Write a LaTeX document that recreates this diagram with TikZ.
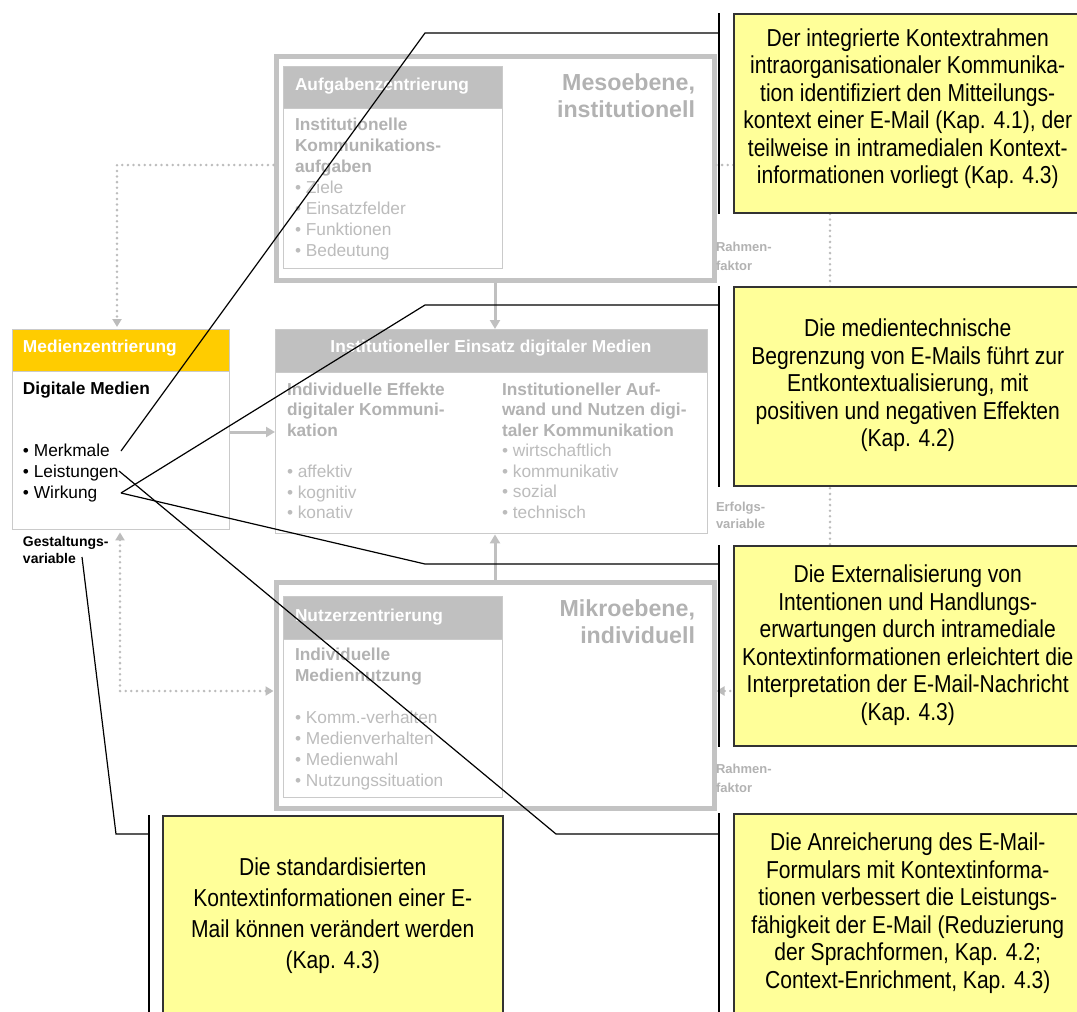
\documentclass[tikz,border=0pt]{standalone}
\usepackage{fontspec}
\setmainfont{Liberation Sans}
\newfontfamily\narrowfont[FakeStretch=0.86]{Liberation Sans}
\usetikzlibrary{arrows.meta}

\definecolor{framegray}{RGB}{195,195,195}
\definecolor{headgray}{RGB}{192,192,192}
\definecolor{rulegray}{RGB}{202,202,202}
\definecolor{boldgray}{RGB}{178,178,178}
\definecolor{itemgray}{RGB}{188,188,188}
\definecolor{dotgray}{RGB}{188,188,188}
\definecolor{notefill}{RGB}{255,255,153}
\definecolor{medienyellow}{RGB}{255,204,0}

% stacked lines with a fixed baseline distance; the node's base is the first line
\newcommand\linesblock[2]{\begin{tabular}[t]{@{}#1@{}}#2\end{tabular}}
\newcommand\bh[1]{{\bfseries\color{boldgray}#1}}
\newcommand\gi[1]{{\color{itemgray}#1}}

\tikzset{
  frame/.style={rectangle, draw=framegray, line width=5pt, fill=white, inner sep=0pt, anchor=north west},
  panel/.style={rectangle, draw=rulegray, line width=1.4pt, fill=white, inner sep=0pt, anchor=north west},
  panelhead/.style={rectangle, draw=rulegray, line width=1.4pt, fill=headgray, inner sep=0pt, anchor=north west},
  txt/.style={inner sep=0pt, outer sep=0pt},
  headtxt/.style={txt, text=white, font=\fontsize{17.3}{20.9}\selectfont\bfseries},
  bodytxt/.style={txt, anchor=base west, font=\fontsize{17.3}{#1}\selectfont},
  bodytxt/.default=20.9,
  leveltxt/.style={txt, text=boldgray, anchor=base east, font=\fontsize{23.2}{27}\selectfont\bfseries},
  sidetxt/.style={txt, text=boldgray, anchor=base west, font=\fontsize{13}{#1}\selectfont\bfseries},
  sidetxt/.default=19,
  note/.style={rectangle, draw=black!80, line width=1.5pt, fill=notefill, inner sep=0pt, anchor=north west},
  notetxt/.style={txt, font=\narrowfont\fontsize{24.5}{#1}\selectfont},
  notetxt/.default=27.5,
  bracket/.style={black, line width=1.5pt},
  leader/.style={black, line width=1.2pt},
  flow/.style={headgray, line width=3pt, -{Triangle[width=10pt,length=9pt]}},
  dotline/.style={dotgray, line width=2.8pt, line cap=round, dash pattern=on 0pt off 5.6pt},
  dottip/.style={-{Triangle[width=9pt,length=8pt]}},
  dottips/.style={{Triangle[width=9pt,length=8pt]}-{Triangle[width=9pt,length=8pt]}},
}

\begin{document}
\begin{tikzpicture}[x=1pt,y=-1pt]
\useasboundingbox (0,0) rectangle (1077,1012);

% ---------- level frames ----------
\node[frame, minimum width=438, minimum height=224] (meso) at (273.5,53.5) {};
\node[frame, minimum width=438, minimum height=226] (micro) at (273.5,579.5) {};

% ---------- task centred panel ----------
\node[panel, minimum width=219, minimum height=202] (aufg) at (283,66) {};
\node[panelhead, minimum width=219, minimum height=42] (aufgHd) at (283,66) {};
\node[headtxt, anchor=base west] (aufgTitle) at (295,90) {Aufgabenzentrierung};
\node[bodytxt] (aufgBody) at (295,130.7) {\linesblock{l}{%
  \bh{Institutionelle}\\\bh{Kommunikations-}\\\bh{aufgaben}\\
  \gi{• Ziele}\\\gi{• Einsatzfelder}\\\gi{• Funktionen}\\\gi{• Bedeutung}}};
\node[leveltxt] (mesoLabel) at (695,90) {\linesblock{r}{Mesoebene,\\institutionell}};

% ---------- institutional use panel ----------
\node[panel, minimum width=432, minimum height=204] (einsatz) at (275,329) {};
\node[panelhead, minimum width=432, minimum height=43] (einsatzHd) at (275,329) {};
\node[headtxt, anchor=base] (einsatzTitle) at (491,352) {Institutioneller Einsatz digitaler Medien};
\node[bodytxt=20.6] (effekte) at (287,395) {\linesblock{l}{%
  \bh{Individuelle Effekte}\\\bh{digitaler Kommuni-}\\\bh{kation}\\ \\
  \gi{• affektiv}\\\gi{• kognitiv}\\\gi{• konativ}}};
\node[bodytxt=20.5] (nutzen) at (502,395) {\linesblock{l}{%
  \bh{Institutioneller Auf-}\\\bh{wand und Nutzen digi-}\\\bh{taler Kommunikation}\\
  \gi{• wirtschaftlich}\\\gi{• kommunikativ}\\\gi{• sozial}\\\gi{• technisch}}};

% ---------- user centred panel ----------
\node[panel, minimum width=219, minimum height=201] (nutzer) at (283,596) {};
\node[panelhead, minimum width=219, minimum height=43] (nutzerHd) at (283,596) {};
\node[headtxt, anchor=base west] (nutzerTitle) at (295,621) {Nutzerzentrierung};
\node[bodytxt=21] (nutzerBody) at (295,660.5) {\linesblock{l}{%
  \bh{Individuelle}\\\bh{Mediennutzung}\\ \\
  \gi{• Komm.-verhalten}\\\gi{• Medienverhalten}\\\gi{• Medienwahl}\\\gi{• Nutzungssituation}}};
\node[leveltxt] (mikroLabel) at (695,616) {\linesblock{r}{Mikroebene,\\individuell}};

% ---------- media centred panel ----------
\node[panel, minimum width=217, minimum height=200] (medien) at (12,329) {};
\node[panelhead, fill=medienyellow, minimum width=217, minimum height=42] (medienHd) at (12,329) {};
\node[headtxt, anchor=base west] (medienTitle) at (23,352) {Medienzentrierung};
\node[bodytxt] (medienBody) at (23,394) {\linesblock{l}{%
  \textbf{Digitale Medien}\\ \\ \\
  • Merkmale\\• Leistungen\\• Wirkung}};

% ---------- side labels ----------
\node[sidetxt] (rahmenA) at (716,251) {\linesblock{l}{Rahmen-\\faktor}};
\node[sidetxt=17.5] (erfolg) at (716,511) {\linesblock{l}{Erfolgs-\\variable}};
\node[sidetxt] (rahmenB) at (716,773) {\linesblock{l}{Rahmen-\\faktor}};
\node[sidetxt=17.5, text=black, font=\fontsize{14}{17.5}\selectfont\bfseries] (gestalt) at (23,546)
  {\linesblock{l}{Gestaltungs-\\variable}};

% ---------- solid flow arrows ----------
\coordinate (flowY) at (0,432);
\draw[flow] (meso.south) -- (meso.south |- einsatz.north);
\draw[flow] (micro.north) -- (micro.north |- einsatz.south);
\draw[flow] (medien.east |- flowY) -- (einsatz.west |- flowY);

% ---------- dotted relations ----------
\coordinate (d1) at (117,165);
\coordinate (d2) at (120,691);
\coordinate (d3a) at (830,165);
\coordinate (d3b) at (830,691);
\draw[dotline, dottip, shorten >=2pt] (meso.west |- d1) -- (d1) -- (d1 |- medien.north);
\draw[dotline, dottips, shorten <=2pt] (d2 |- medien.south) -- (d2) -- (d2 -| micro.west);
\draw[dotline, dottip] (meso.east |- d3a) -- (d3a) -- (d3b) -- (d3b -| micro.east);

% ---------- notes ----------
\node[note, minimum width=348, minimum height=199] (n1) at (733,13) {};
\node[notetxt] (n1text) at ([yshift=4pt]n1.center) {\linesblock{c}{%
  Der integrierte Kontextrahmen\\
  intraorganisationaler Kommunika-\\
  tion identifiziert den Mitteilungs-\\
  kontext einer E-Mail (Kap. 4.1), der\\
  teilweise in intramedialen Kontext-\\
  informationen vorliegt (Kap. 4.3)}};
\node[note, minimum width=348, minimum height=199] (n2) at (733,286) {};
\node[notetxt] (n2text) at (n2.center) {\linesblock{c}{%
  Die medientechnische\\
  Begrenzung von E-Mails führt zur\\
  Entkontextualisierung, mit\\
  positiven und negativen Effekten\\
  (Kap. 4.2)}};
\node[note, minimum width=348, minimum height=200] (n3) at (733,545) {};
\node[notetxt] (n3text) at (n3.center) {\linesblock{c}{%
  Die Externalisierung von\\
  Intentionen und Handlungs-\\
  erwartungen durch intramediale\\
  Kontextinformationen erleichtert die\\
  Interpretation der E-Mail-Nachricht\\
  (Kap. 4.3)}};
\node[note, minimum width=348, minimum height=200] (n4) at (733,813) {};
\node[notetxt] (n4text) at (n4.center) {\linesblock{c}{%
  Die Anreicherung des E-Mail-\\
  Formulars mit Kontextinforma-\\
  tionen verbessert die Leistungs-\\
  fähigkeit der E-Mail (Reduzierung\\
  der Sprachformen, Kap. 4.2;\\
  Context-Enrichment, Kap. 4.3)}};
\node[note, minimum width=340, minimum height=200] (n5) at (162,815) {};
\node[notetxt=31] (n5text) at (n5.center) {\linesblock{c}{%
  Die standardisierten\\
  Kontextinformationen einer E-\\
  Mail können verändert werden\\
  (Kap. 4.3)}};

% ---------- brackets beside the notes ----------
\coordinate (bx) at (719,0);
\coordinate (bx5) at (149,0);
\foreach \n in {n1,n2,n3,n4}
  \draw[bracket] (\n.north west -| bx) -- (\n.south west -| bx);
\draw[bracket] (n5.north west -| bx5) -- (n5.south west -| bx5);

% ---------- leaders ----------
\coordinate (mmEnd) at (121,451);
\coordinate (lsEnd) at (119,471);
\coordinate (wkEnd) at (121,493);
\coordinate (gsEnd) at (82,557);
\coordinate (k1) at (425,33);
\coordinate (k2) at (425,305);
\coordinate (k3) at (425,564);
\coordinate (k4) at (556,834);
\coordinate (k5) at (116,834);
\draw[leader] (mmEnd) -- (k1) -- (k1 -| bx);
\draw[leader] (wkEnd) -- (k2) -- (k2 -| bx);
\draw[leader] (wkEnd) -- (k3) -- (k3 -| bx);
\draw[leader] (lsEnd) -- (k4) -- (k4 -| bx);
\draw[leader] (gsEnd) -- (k5) -- (k5 -| bx5);
\end{tikzpicture}
\end{document}
